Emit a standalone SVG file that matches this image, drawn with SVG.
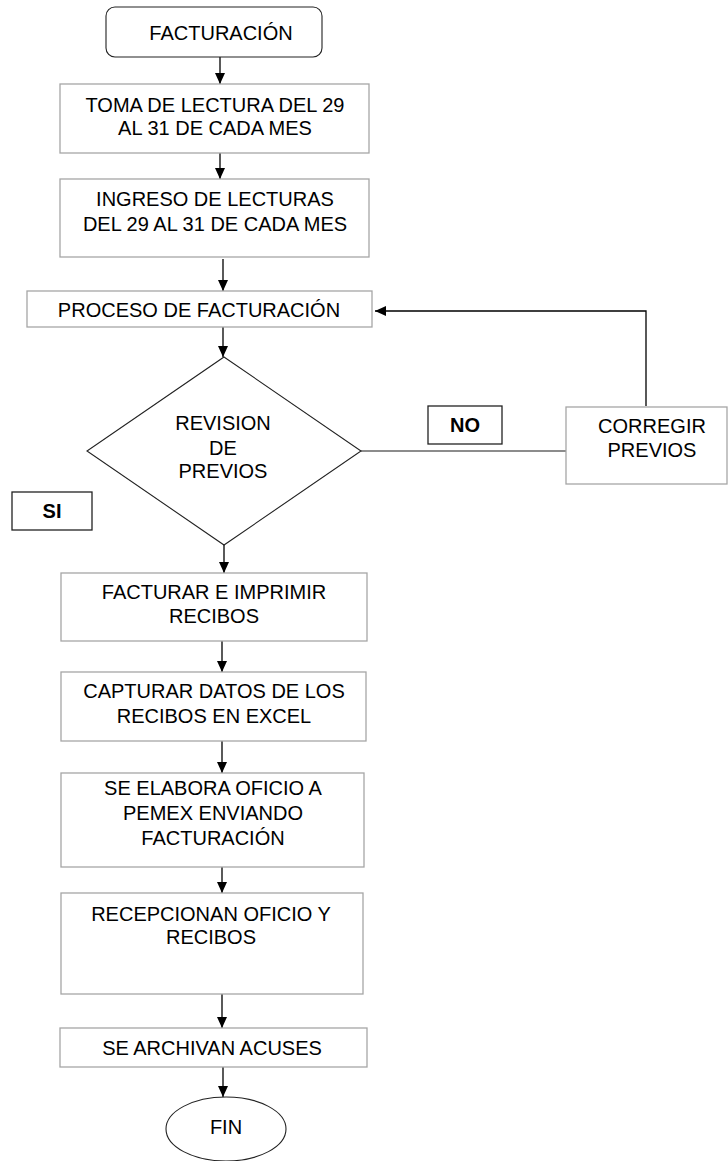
<svg xmlns="http://www.w3.org/2000/svg" width="728" height="1161" viewBox="0 0 728 1161">
<style>
text{font-family:"Liberation Sans",Arial,sans-serif;font-size:20px;fill:#000;text-anchor:middle}
.b{font-weight:bold}
.box{fill:#fff;stroke:#a6a6a6;stroke-width:1.3}
.lbl{fill:#fff;stroke:#222;stroke-width:1.3}
.sh{fill:#fff;stroke:#222;stroke-width:1.1}
.c{fill:none;stroke:#000;stroke-width:1.3}
.c2{fill:none;stroke:#666;stroke-width:1.3}
</style>
<defs>
<marker id="ah" markerWidth="12" markerHeight="12" refX="11" refY="5" orient="auto" markerUnits="userSpaceOnUse">
<path d="M0,0 L11,5 L0,10 Z" fill="#000"/>
</marker>
</defs>
<rect width="728" height="1161" fill="#fff"/>
<g id="connectors">
<line class="c" x1="220" y1="57" x2="220" y2="84" marker-end="url(#ah)"/>
<line class="c" x1="220" y1="153" x2="220" y2="179" marker-end="url(#ah)"/>
<line class="c" x1="223" y1="259" x2="223" y2="291" marker-end="url(#ah)"/>
<line class="c" x1="223" y1="327" x2="223" y2="357" marker-end="url(#ah)"/>
<line class="c" x1="224" y1="545" x2="224" y2="573" marker-end="url(#ah)"/>
<line class="c" x1="222" y1="641" x2="222" y2="672" marker-end="url(#ah)"/>
<line class="c" x1="222" y1="741" x2="222" y2="773" marker-end="url(#ah)"/>
<line class="c" x1="222" y1="867" x2="222" y2="893" marker-end="url(#ah)"/>
<line class="c" x1="222" y1="994" x2="222" y2="1028" marker-end="url(#ah)"/>
<line class="c" x1="223" y1="1067" x2="223" y2="1097" marker-end="url(#ah)"/>
<line class="c2" x1="361" y1="451" x2="566" y2="451"/>
<polyline class="c" points="646,406 646,311 375,311" marker-end="url(#ah)"/>
</g>
<g id="start">
<rect class="sh" x="106" y="7" width="216" height="50" rx="9"/>
<text x="221" y="40">FACTURACIÓN</text>
</g>
<g id="toma">
<rect class="box" x="60" y="84" width="309" height="69"/>
<text x="215" y="112">TOMA DE LECTURA DEL 29</text>
<text x="215" y="135">AL 31 DE CADA MES</text>
</g>
<g id="ingreso">
<rect class="box" x="60" y="179" width="309" height="78"/>
<text x="215" y="206">INGRESO DE LECTURAS</text>
<text x="215" y="231">DEL 29 AL 31 DE CADA MES</text>
</g>
<g id="proceso">
<rect class="box" x="27" y="291" width="345" height="36"/>
<text x="199" y="317">PROCESO DE FACTURACIÓN</text>
</g>
<g id="revision">
<polygon class="sh" points="224,357 361,451 224,545 87,451"/>
<text x="223" y="430">REVISION</text>
<text x="223" y="455">DE</text>
<text x="223" y="478">PREVIOS</text>
</g>
<g id="no">
<rect class="lbl" x="428" y="406" width="74" height="38"/>
<text class="b" x="465" y="432">NO</text>
</g>
<g id="corregir">
<rect class="box" x="566" y="407" width="161" height="77"/>
<text x="652" y="433">CORREGIR</text>
<text x="652" y="457">PREVIOS</text>
</g>
<g id="si">
<rect class="lbl" x="12" y="492" width="80" height="38"/>
<text class="b" x="52" y="518">SI</text>
</g>
<g id="facturar">
<rect class="box" x="61" y="573" width="306" height="68"/>
<text x="214" y="599">FACTURAR E IMPRIMIR</text>
<text x="214" y="623">RECIBOS</text>
</g>
<g id="capturar">
<rect class="box" x="61" y="672" width="305" height="69"/>
<text x="214" y="698">CAPTURAR DATOS DE LOS</text>
<text x="214" y="723">RECIBOS EN EXCEL</text>
</g>
<g id="oficio">
<rect class="box" x="61" y="773" width="303" height="94"/>
<text x="213" y="795">SE ELABORA OFICIO A</text>
<text x="213" y="820">PEMEX ENVIANDO</text>
<text x="213" y="845">FACTURACIÓN</text>
</g>
<g id="recepcionan">
<rect class="box" x="61" y="893" width="302" height="101"/>
<text x="211" y="921">RECEPCIONAN OFICIO Y</text>
<text x="211" y="944">RECIBOS</text>
</g>
<g id="archivan">
<rect class="box" x="60" y="1028" width="307" height="39"/>
<text x="212" y="1055">SE ARCHIVAN ACUSES</text>
</g>
<g id="fin">
<ellipse class="sh" cx="226" cy="1129" rx="60" ry="32"/>
<text x="226" y="1134">FIN</text>
</g>
</svg>
